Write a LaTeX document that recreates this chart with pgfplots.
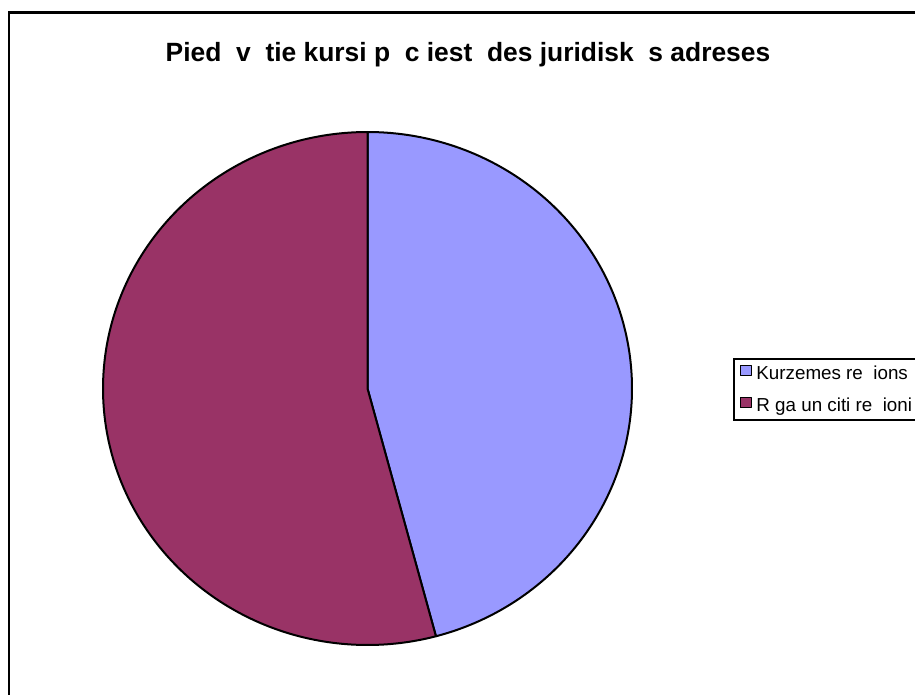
\documentclass[border=0pt]{standalone}
\usepackage{pgfplots}
\pgfplotsset{compat=1.18}
\usepackage{pgfplotstable}
\usepackage{fontspec}
\setmainfont{Liberation Sans}
\definecolor{pieblue}{HTML}{9999FF}
\definecolor{piered}{HTML}{993366}
\pgfplotstableread{
region value
Kurzemes 11
Riga 13
}\piedata
\pgfplotstablegetelem{0}{value}\of\piedata \let\valA\pgfplotsretval
\pgfplotstablegetelem{1}{value}\of\piedata \let\valB\pgfplotsretval
\pgfmathsetmacro\angA{90-360*\valA/(\valA+\valB)}
\pgfmathsetmacro\angB{\angA+360}
\begin{document}
\begin{tikzpicture}
\path[use as bounding box] (0pt,0pt) rectangle (915pt,-695pt);
\draw[line width=2.4pt] (9pt,-720pt) -- (9pt,-12.5pt) -- (940pt,-12.5pt);
\begin{axis}[
  at={(367.5pt,-388.5pt)}, anchor=center,
  x=264.5pt, y=256.5pt,
  xmin=-1, xmax=1, ymin=-1, ymax=1,
  hide axis, clip=false,
  title={Pied\phantom{ā}v\phantom{ā}tie kursi p\phantom{ē}c iest\phantom{ā}des juridisk\phantom{ā}s adreses},
  title style={at={(axis description cs:0.690,1.126)}, anchor=base, font=\fontsize{26.4}{30}\selectfont\bfseries},
  legend cell align=left,
  legend image code/.code={\draw[#1,line width=1pt] (0pt,-2.5pt) rectangle (11pt,8pt); \path[draw=none,fill=none] (0pt,0pt) -- (14pt,0pt);},
  legend style={at={(axis description cs:1.1909,0.5595)}, anchor=north west,
    draw=black, line width=1.8pt, font=\fontsize{18.8}{21}\selectfont,
    inner xsep=6pt, inner ysep=4.5pt, row sep=12pt,
    /tikz/every even column/.append style={column sep=0pt}},
]
\addplot[fill=pieblue, draw=black, line width=2pt, line join=round, domain=\angA:90, samples=200, variable=\t]
  ({cos(\t)},{sin(\t)}) -- (axis cs:0,0) -- cycle;
\addlegendentry{Kurzemes re\phantom{ģ}ions}
\addplot[fill=piered, draw=black, line width=2pt, line join=round, domain=90:\angB, samples=200, variable=\t]
  ({cos(\t)},{sin(\t)}) -- (axis cs:0,0) -- cycle;
\addlegendentry{R\phantom{ī}ga un citi re\phantom{ģ}ioni}
\end{axis}
\end{tikzpicture}
\end{document}
